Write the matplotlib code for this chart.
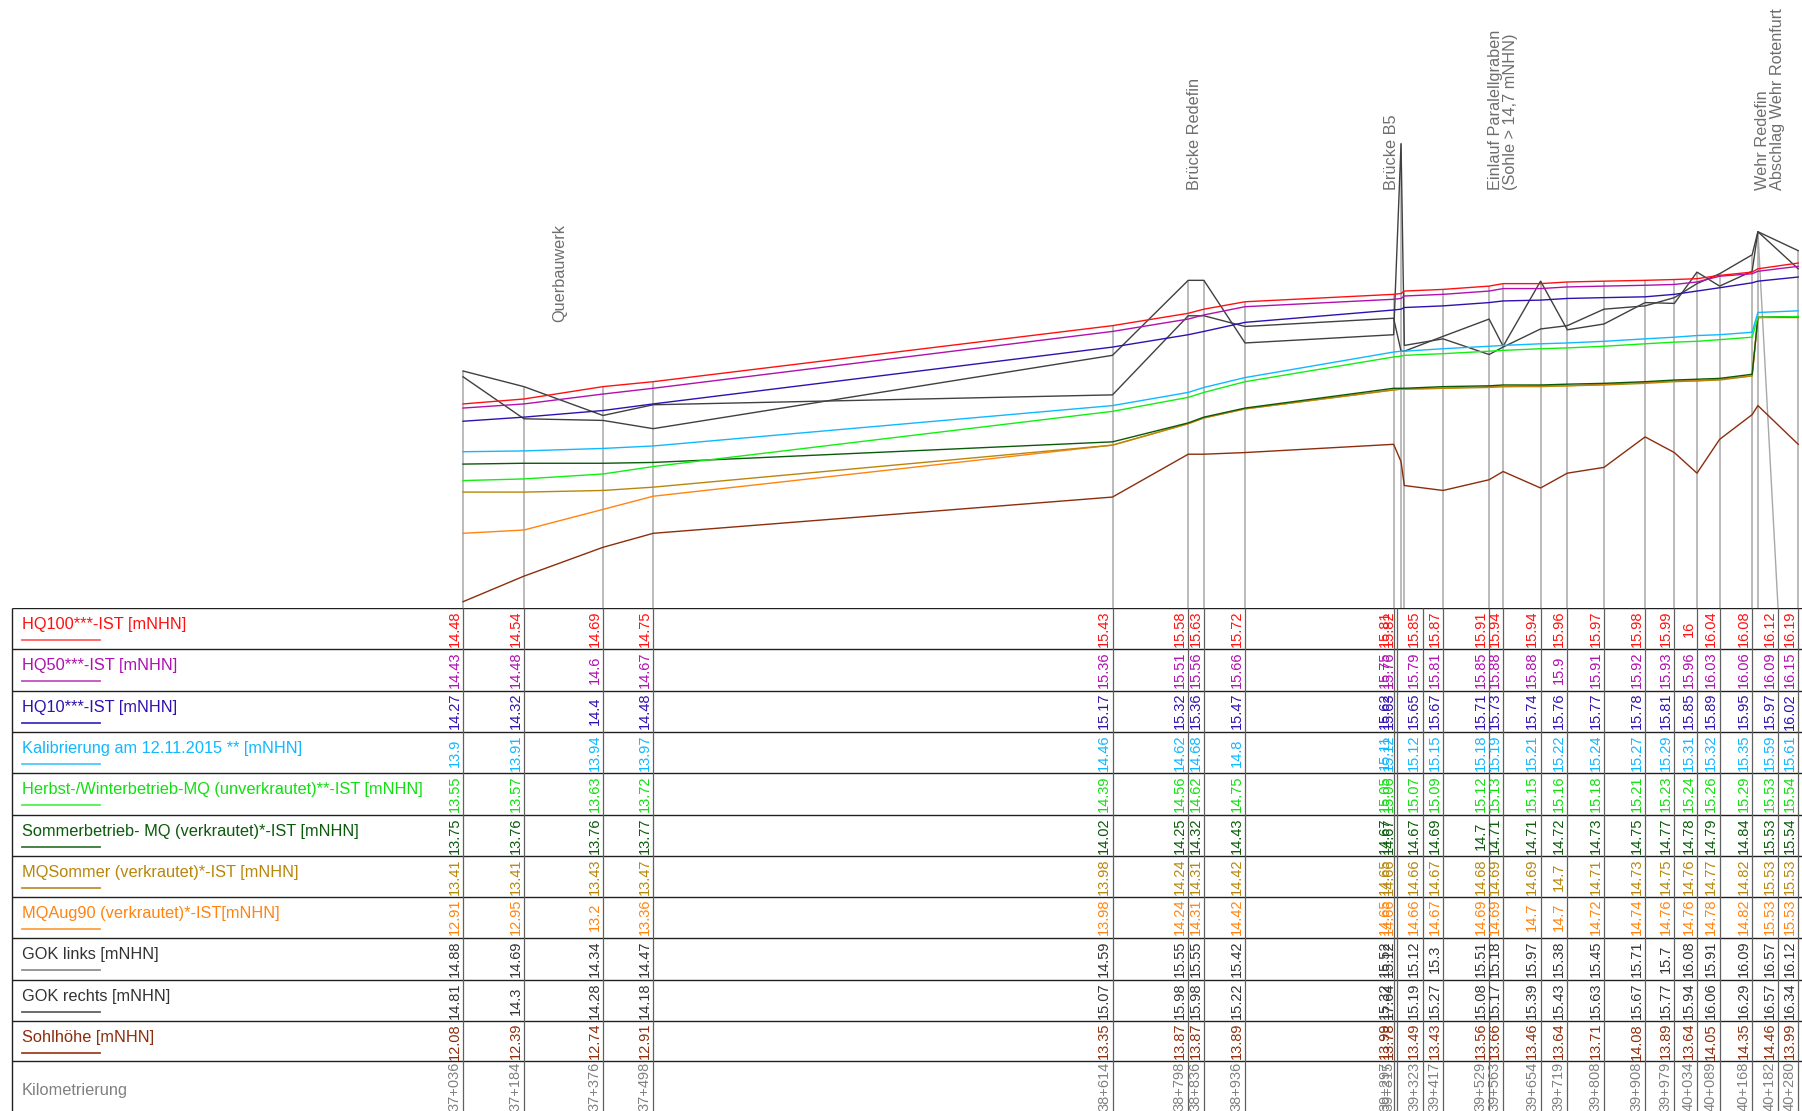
import matplotlib
matplotlib.use("Agg")
import matplotlib.pyplot as plt

plt.rcParams['font.family'] = ['Liberation Sans', 'DejaVu Sans']

# ---------------- data ----------------
stations_km = [37.036, 37.184, 37.376, 37.498, 38.614, 38.798, 38.836, 38.936,
               39.297, 39.315, 39.323, 39.417, 39.529, 39.563, 39.654, 39.719,
               39.808, 39.908, 39.979, 40.034, 40.089, 40.168, 40.182, 40.280]
km_labels = ["37+036", "37+184", "37+376", "37+498", "38+614", "38+798", "38+836", "38+936",
             "39+297", "39+315", "39+323", "39+417", "39+529", "39+563", "39+654", "39+719",
             "39+808", "39+908", "39+979", "40+034", "40+089", "40+168", "40+182", "40+280"]

hq100 = [14.48, 14.54, 14.69, 14.75, 15.43, 15.58, 15.63, 15.72, 15.81, 15.82, 15.85, 15.87,
         15.91, 15.94, 15.94, 15.96, 15.97, 15.98, 15.99, 16, 16.04, 16.08, 16.12, 16.19]
hq50 = [14.43, 14.48, 14.6, 14.67, 15.36, 15.51, 15.56, 15.66, 15.75, 15.76, 15.79, 15.81,
        15.85, 15.88, 15.88, 15.9, 15.91, 15.92, 15.93, 15.96, 16.03, 16.06, 16.09, 16.15]
hq10 = [14.27, 14.32, 14.4, 14.48, 15.17, 15.32, 15.36, 15.47, 15.62, 15.63, 15.65, 15.67,
        15.71, 15.73, 15.74, 15.76, 15.77, 15.78, 15.81, 15.85, 15.89, 15.95, 15.97, 16.02]
kalibrierung = [13.9, 13.91, 13.94, 13.97, 14.46, 14.62, 14.68, 14.8, 15.11, 15.12, 15.12, 15.15,
                15.18, 15.19, 15.21, 15.22, 15.24, 15.27, 15.29, 15.31, 15.32, 15.35, 15.59, 15.61]
herbst_mq = [13.55, 13.57, 13.63, 13.72, 14.39, 14.56, 14.62, 14.75, 15.05, 15.06, 15.07, 15.09,
             15.12, 15.13, 15.15, 15.16, 15.18, 15.21, 15.23, 15.24, 15.26, 15.29, 15.53, 15.54]
sommer_mq = [13.75, 13.76, 13.76, 13.77, 14.02, 14.25, 14.32, 14.43, 14.67, 14.67, 14.67, 14.69,
             14.7, 14.71, 14.71, 14.72, 14.73, 14.75, 14.77, 14.78, 14.79, 14.84, 15.53, 15.54]
mq_sommer = [13.41, 13.41, 13.43, 13.47, 13.98, 14.24, 14.31, 14.42, 14.65, 14.66, 14.66, 14.67,
             14.68, 14.69, 14.69, 14.7, 14.71, 14.73, 14.75, 14.76, 14.77, 14.82, 15.53, 15.53]
mq_aug90 = [12.91, 12.95, 13.2, 13.36, 13.98, 14.24, 14.31, 14.42, 14.65, 14.66, 14.66, 14.67,
            14.69, 14.69, 14.7, 14.7, 14.72, 14.74, 14.76, 14.76, 14.78, 14.82, 15.53, 15.53]
gok_links = [14.88, 14.69, 14.34, 14.47, 14.59, 15.55, 15.55, 15.42, 15.52, 15.12, 15.12, 15.3,
             15.51, 15.18, 15.97, 15.38, 15.45, 15.71, 15.7, 16.08, 15.91, 16.09, 16.57, 16.12]
gok_rechts = [14.81, 14.3, 14.28, 14.18, 15.07, 15.98, 15.98, 15.22, 15.32, 17.64, 15.19, 15.27,
              15.08, 15.17, 15.39, 15.43, 15.63, 15.67, 15.77, 15.94, 16.06, 16.29, 16.57, 16.34]
sohle = [12.08, 12.39, 12.74, 12.91, 13.35, 13.87, 13.87, 13.89, 13.99, 13.78, 13.49, 13.43,
         13.56, 13.66, 13.46, 13.64, 13.71, 14.08, 13.89, 13.64, 14.05, 14.35, 14.46, 13.99]

row_labels = ["HQ100***-IST [mNHN]", "HQ50***-IST [mNHN]", "HQ10***-IST [mNHN]",
              "Kalibrierung am 12.11.2015 ** [mNHN]",
              "Herbst-/Winterbetrieb-MQ (unverkrautet)**-IST [mNHN]",
              "Sommerbetrieb- MQ (verkrautet)*-IST [mNHN]",
              "MQSommer (verkrautet)*-IST [mNHN]", "MQAug90 (verkrautet)*-IST[mNHN]",
              "GOK links [mNHN]", "GOK rechts [mNHN]", "Sohlhöhe [mNHN]"]

annot_texts = ["Querbauwerk", "Brücke Redefin", "Brücke B5",
               "Einlauf Paralellgraben\n(Sohle > 14,7 mNHN)",
               "Wehr Redefin\nAbschlag Wehr Rotenfurt"]
annot_km = [37.272, 38.812, 39.291, 39.563, 40.211]

# ---------------- style ----------------
series = [hq100, hq50, hq10, kalibrierung, herbst_mq, sommer_mq, mq_sommer, mq_aug90,
          gok_links, gok_rechts, sohle]
line_colors = ['#ff1010', '#b010b0', '#3010b0', '#10b8ff', '#10f010', '#0a5a0a',
               '#b8860b', '#ff8410', '#404040', '#404040', '#8c2d0c']
text_colors = ['#ff1010', '#b010b0', '#3010b0', '#10b8ff', '#10e010', '#0a5a0a',
               '#b8860b', '#ff8410', '#333333', '#333333', '#8c2d0c']
under_colors = ['#ff6060', '#c050c0', '#4030c0', '#50c8ff', '#50f050', '#3a7a3a',
                '#c09030', '#ffa040', '#909090', '#606060', '#a04020']
annot_bottom = [15.474, 17.076, 17.076, 17.076, 17.076]

W, H = 1802, 1111
fig = plt.figure(figsize=(W / 100, H / 100), dpi=100)

# pixel <-> km mapping
x0_px, x0_km, px_per_km = 463.0, 37.036, 411.6
def px2km(px):
    return x0_km + (px - x0_px) / px_per_km
xlim = (px2km(0), px2km(W))

table_top = 608.3
ax = fig.add_axes([0, 1 - table_top / H, 1, table_top / H])
ax.set_xlim(*xlim)
ax.set_ylim(12.0, 19.382)
ax.axis('off')

tax = fig.add_axes([0, 0, 1, 1 - table_top / H])
tax.set_xlim(*xlim)
tax.set_ylim(H - table_top, 0)
tax.axis('off')

# table column positions (some shifted to avoid overlap)
table_shift = {"39+315": -0.009, "39+323": 0.045, "40+182": 0.049}
table_x = [s + table_shift.get(l, 0.0) for s, l in zip(stations_km, km_labels)]

# vertical station lines
tops = [max(v) for v in zip(*series)]
ax.vlines(stations_km, 12.0, tops, color='#a8a8a8', lw=1.1, zorder=1)
ax.plot([40.182, table_x[22]], [16.57, 12.0], color='#a8a8a8', lw=1.0, zorder=1)

# series lines
order = [10, 8, 9, 7, 6, 5, 4, 3, 2, 1, 0]
for i in order:
    ax.plot(stations_km, series[i], color=line_colors[i], lw=1.0, zorder=3)

# annotations
for t, k, b in zip(annot_texts, annot_km, annot_bottom):
    ax.text(k, b, t, rotation=90, ha='center', va='bottom', color='#6e6e6e',
            fontsize=11.7, multialignment='left', linespacing=1.05)

# table grid
row_y = [0, 41.0, 82.4, 124.0, 165.0, 206.7, 247.7, 288.4, 330.0, 371.7, 412.4, 452.4]
tax.hlines(row_y, px2km(12), xlim[1], color='#202020', lw=1.0)
tax.vlines([px2km(12)], 0, H - table_top, color='#202020', lw=1.0)
tax.vlines(table_x, 0, H - table_top, color='#606060', lw=0.9)

off = 8.5 / px_per_km
lx = px2km(21.7)
for r, (lab, vals) in enumerate(zip(row_labels, series)):
    top = row_y[r]
    tax.text(lx, top + 16.5, lab, color=text_colors[r], fontsize=11.8, ha='left', va='center')
    tax.plot([lx, px2km(100)], [top + 32, top + 32], color=under_colors[r], lw=1.3)
    for tx, v in zip(table_x, vals):
        tax.text(tx - off, top + 20.5, f"{v:g}", rotation=90, ha='center', va='center',
                 color=text_colors[r], fontsize=10.5)

tax.text(lx, 1091 - table_top, "Kilometrierung", color='#808080', fontsize=11.8,
         ha='left', va='center')
for tx, lab in zip(table_x, km_labels):
    tax.text(tx - off, 1086 - table_top, lab, rotation=90, ha='center', va='center',
             color='#808080', fontsize=10.5)

fig.savefig("out.png", dpi=100)
